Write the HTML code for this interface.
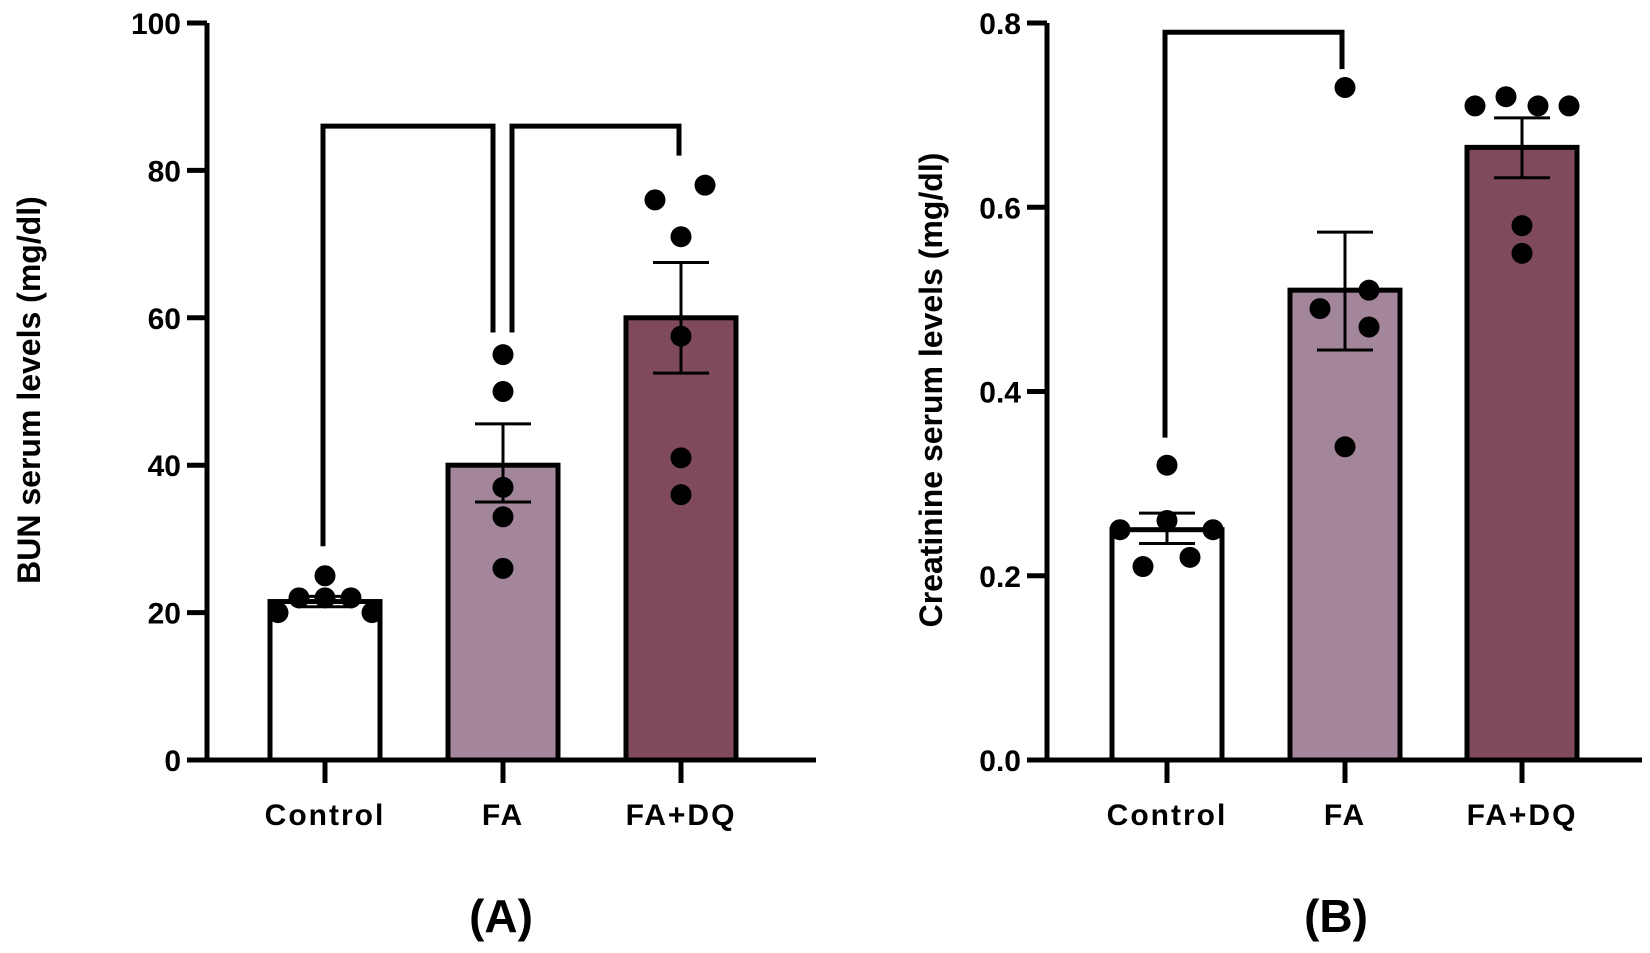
<!DOCTYPE html>
<html><head><meta charset="utf-8"><style>
html,body{margin:0;padding:0;background:#fff;}
svg{display:block;font-family:"Liberation Sans",Arial,sans-serif;}
</style></head><body>
<svg id="fig" width="1650" height="953" viewBox="0 0 1650 953" xmlns="http://www.w3.org/2000/svg"></svg>
<script>
const categories = ["Control","FA","FA+DQ"];
const bunMeans = [21.5, 40, 60];
const bunErrLow = [20.8, 35, 52.5];
const bunErrHigh = [22.2, 45.6, 67.5];
const bunPoints = [[20,22,25,22,22,20],[55,50,37,33,26],[76,78,71,57.5,41,36]];
const bunTicks = ["0","20","40","60","80","100"];
const creMeans = [0.25, 0.51, 0.665];
const creErrLow = [0.235, 0.445, 0.632];
const creErrHigh = [0.268, 0.573, 0.697];
const crePoints = [[0.32,0.25,0.26,0.25,0.21,0.22],[0.73,0.51,0.49,0.47,0.34],[0.71,0.72,0.71,0.71,0.58,0.55]];
const creTicks = ["0.0","0.2","0.4","0.6","0.8"];
const colors = ["#ffffff","#a3869a","#7e4a5c"];
// horizontal jitter (style, px) for the scatter dots
const bunJitter = [[-47,-26,0,0,26,47],[0,0,0,0,0],[-26,24,0,0,0,0]];
const creJitter = [[0,-47,0,46,-24,23],[0,24,-25,24,0],[-47,-16,16,47,0,0]];

const NS="http://www.w3.org/2000/svg";
const svg=document.getElementById('fig');
function mk(tag,attrs,parent){const e=document.createElementNS(NS,tag);for(const k in attrs)e.setAttribute(k,attrs[k]);(parent||svg).appendChild(e);return e;}

function panel(o){
  const g=mk('g',{});
  
  
  const y=v=>o.y0+(o.y1-o.y0)*(v-o.min)/(o.max-o.min);
  const xc=i=>o.centers[i];
  o.means.forEach((m,i)=>{
    const r=mk('rect',{x:xc(i)-o.bw/2,y:y(m),width:o.bw,height:y(0)-y(m),fill:colors[i],stroke:'#000','stroke-width':5},g);
    
    
  });
  o.means.forEach((m,i)=>{
    const eg=mk('g',{stroke:'#000','stroke-width':3},g);
    
    
    mk('line',{x1:xc(i),x2:xc(i),y1:y(o.lo[i]),y2:y(o.hi[i])},eg);
    mk('line',{x1:xc(i)-28,x2:xc(i)+28,y1:y(o.lo[i]),y2:y(o.lo[i])},eg);
    mk('line',{x1:xc(i)-28,x2:xc(i)+28,y1:y(o.hi[i]),y2:y(o.hi[i])},eg);
  });
  o.points.forEach((pts,i)=>{
    pts.forEach((v,j)=>{
      const c=mk('circle',{cx:xc(i)+o.jitter[i][j],cy:y(v),r:10.5,fill:'#000'},g);
      
      
    });
  });
  const ax=mk('g',{stroke:'#000','stroke-width':5,fill:'none'},g);
  
  
  mk('line',{x1:o.ax,x2:o.ax,y1:y(o.max),y2:y(0)+2.5},ax);
  mk('line',{x1:o.ax-20,x2:o.xend,y1:y(0),y2:y(0)},ax);
  o.ticks.forEach(t=>{
    const v=parseFloat(t);
    mk('line',{x1:o.ax-20,x2:o.ax,y1:y(v),y2:y(v)},ax);
    const tx=mk('text',{x:o.ax-26,y:y(v)+11,'text-anchor':'end','font-size':30,'font-weight':'bold',fill:'#000',stroke:'none'},g);
    tx.textContent=t;
    
    
  });
  categories.forEach((c,i)=>{
    mk('line',{x1:xc(i),x2:xc(i),y1:y(0),y2:y(0)+23},ax);
    const tx=mk('text',{x:xc(i),y:y(0)+65,'text-anchor':'middle','font-size':30,'font-weight':'bold','letter-spacing':2,fill:'#000'},g);
    tx.textContent=c;
    
    
  });
  o.brackets.forEach(b=>{
    const p=mk('polyline',{points:`${b[0]},${y(b[2])} ${b[0]},${y(b[4])} ${b[1]},${y(b[4])} ${b[1]},${y(b[3])}`,fill:'none',stroke:'#000','stroke-width':5},g);
    
    
  });
  const t=mk('text',{transform:`translate(${o.titleX},${o.titleY}) rotate(-90)`,'text-anchor':'middle','font-size':32,'font-weight':'bold',fill:'#000'},g);
  t.textContent=o.title;
  
  
  const l=mk('text',{x:o.labelX,y:932,'text-anchor':'middle','font-size':46,'font-weight':'bold',fill:'#000'},g);
  l.textContent=o.label;
  
  
}

panel({name:'bun-panel',min:0,max:100,y0:760,y1:23,ax:207,xend:816,centers:[325,503,681],bw:110,jitter:bunJitter,
  means:bunMeans,lo:bunErrLow,hi:bunErrHigh,points:bunPoints,ticks:bunTicks,
  brackets:[[323,493,29,58,86],[512,679,58,82,86]],
  title:'BUN serum levels (mg/dl)',titleX:40,titleY:390,label:'(A)',labelX:501});
panel({name:'creatinine-panel',min:0,max:0.8,y0:760,y1:23,ax:1047,xend:1642,centers:[1167,1345,1522],bw:110,jitter:creJitter,
  means:creMeans,lo:creErrLow,hi:creErrHigh,points:crePoints,ticks:creTicks,
  brackets:[[1165,1342,0.35,0.75,0.79]],
  title:'Creatinine serum levels (mg/dl)',titleX:942,titleY:390,label:'(B)',labelX:1336});
</script>
</body></html>
